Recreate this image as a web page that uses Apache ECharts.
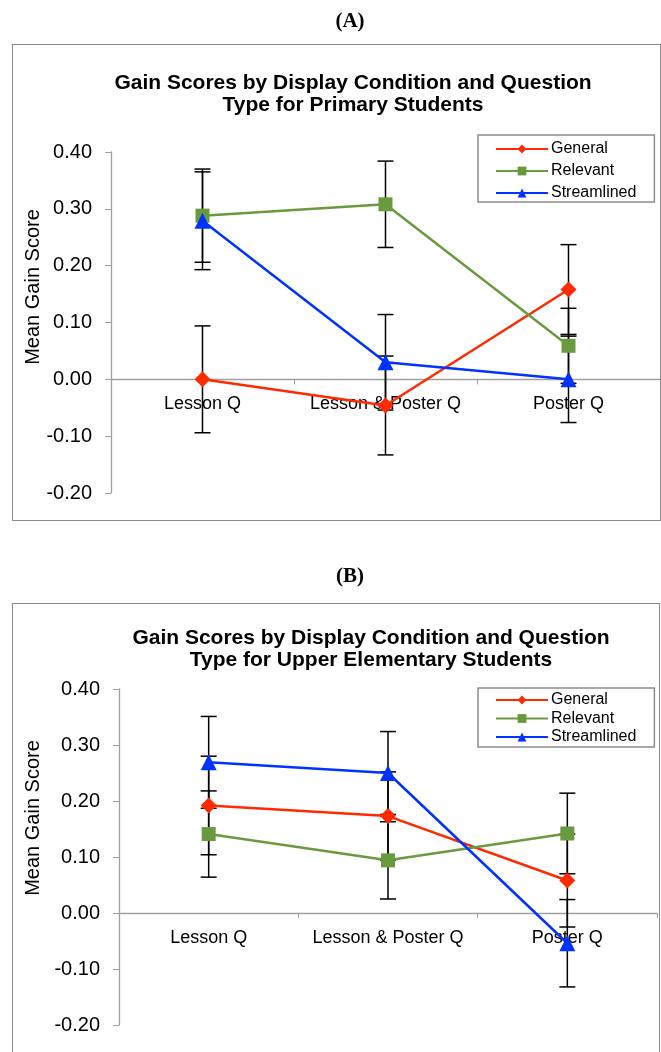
<!DOCTYPE html>
<html>
<head>
<meta charset="utf-8">
<script src="https://cdn.jsdelivr.net/npm/echarts@6/dist/echarts.min.js"></script>
<style>
  html, body { margin:0; padding:0; background:#fff; overflow:hidden; }
  #chart { position:absolute; left:0; top:0; width:661px; height:1052px; }
  .frame { position:absolute; box-sizing:border-box; border:1.5px solid #8c8c8c; pointer-events:none; }
</style>
</head>
<body>
<div id="chart"></div>
<div class="frame" style="left:12px; top:44px; width:649px; height:477px;"></div>
<div class="frame" style="left:12px; top:603px; width:648px; height:500px;"></div>
<script>
// ---- Data ----
var categories = ['Lesson Q', 'Lesson & Poster Q', 'Poster Q'];
var seriesNames = ['General', 'Relevant', 'Streamlined'];
var yTicks = [-0.20, -0.10, 0.00, 0.10, 0.20, 0.30, 0.40];

// Panel A: Primary Students
var primaryGeneral      = [0.000, -0.046, 0.158];
var primaryRelevant     = [0.288,  0.308, 0.059];
var primaryStreamlined  = [0.279,  0.030, 0.000];
var primaryGeneralErr     = [0.094, 0.087, 0.079];
var primaryRelevantErr    = [0.082, 0.076, 0.066];
var primaryStreamlinedErr = [0.086, 0.084, 0.076];

// Panel B: Upper Elementary Students
var upperGeneral      = [0.192, 0.173, 0.058];
var upperRelevant     = [0.141, 0.094, 0.142];
var upperStreamlined  = [0.269, 0.250, -0.054];
var upperGeneralErr     = [0.088, 0.079, 0.083];
var upperRelevantErr    = [0.077, 0.069, 0.072];
var upperStreamlinedErr = [0.082, 0.074, 0.078];

// ---- Styles ----
var colors = ['#ff2a00', '#6a9a3f', '#0033ff'];
var symbols = ['diamond', 'rect', 'triangle'];
var symbolSizes = [16, 14, 16];
var axisGray = '#a0a0a0';
var font = '"Liberation Sans", Arial, sans-serif';
var yMin = yTicks[0], yMax = yTicks[yTicks.length - 1];

var grids = [
  { left:111, top:152, width:549, height:341 },
  { left:119, top:689, width:538, height:336 }
];

var chart = echarts.init(document.getElementById('chart'), null, {renderer:'canvas'});

function errorRender(params, api) {
  var x = api.value(0), v = api.value(1), e = api.value(2);
  var top = api.coord([x, v + e]);
  var bot = api.coord([x, v - e]);
  var hw = 8;
  var st = { stroke:'#000', lineWidth:1.5 };
  return { type:'group', children:[
    { type:'line', shape:{ x1:top[0], y1:top[1], x2:bot[0], y2:bot[1] }, style:st },
    { type:'line', shape:{ x1:top[0]-hw, y1:top[1], x2:top[0]+hw, y2:top[1] }, style:st },
    { type:'line', shape:{ x1:bot[0]-hw, y1:bot[1], x2:bot[0]+hw, y2:bot[1] }, style:st }
  ]};
}

function errData(vals, errs) {
  return vals.map(function(v, i){ return [i, v, errs[i]]; });
}

function makeSeries(gridIdx, valsList, errList) {
  var out = [];
  for (var k = 0; k < 3; k++) {
    out.push({
      type:'custom', name: seriesNames[k] + ' err', xAxisIndex:gridIdx, yAxisIndex:gridIdx,
      renderItem: errorRender, data: errData(valsList[k], errList[k]), z:1, silent:true,
      encode:{ x:0, y:1 }
    });
  }
  for (var k2 = 0; k2 < 3; k2++) {
    out.push({
      type:'line', name: seriesNames[k2], xAxisIndex:gridIdx, yAxisIndex:gridIdx,
      data: valsList[k2], symbol: symbols[k2], symbolSize: symbolSizes[k2],
      lineStyle:{ color: colors[k2], width:2.5 }, itemStyle:{ color: colors[k2] },
      z:3, animation:false
    });
  }
  return out;
}

function xAxisDef(gridIdx) {
  // place the category axis (line, ticks, labels) on the zero line
  var zeroOffset = -(0 - yMin) / (yMax - yMin) * grids[gridIdx].height;
  return {
    type:'category', gridIndex:gridIdx, data:categories, boundaryGap:true,
    position:'bottom', offset: zeroOffset,
    axisLine:{ show:true, onZero:false, lineStyle:{ color:axisGray, width:1.3 } },
    axisTick:{ show:true, length:5, lineStyle:{ color:axisGray } },
    axisLabel:{ color:'#000', fontSize:18, fontFamily:font, margin:16, interval:0 },
    splitLine:{ show:false }
  };
}

function yAxisDef(gridIdx, nameGap, nameShift) {
  return {
    type:'value', gridIndex:gridIdx, min:yMin, max:yMax, interval:0.1,
    name:'Mean Gain Score', nameLocation:'middle', nameRotate:90, nameGap:nameGap,
    nameMoveOverlap:false,
    nameTextStyle:{ color:'#000', fontSize:20, fontFamily:font, padding:[0,0,0,nameShift] },
    axisLine:{ show:true, lineStyle:{ color:axisGray, width:1.3 } },
    axisTick:{ show:true, length:6, lineStyle:{ color:axisGray } },
    axisLabel:{ color:'#000', fontSize:20, fontFamily:font, margin:19,
      formatter:function(v){ return v.toFixed(2); } },
    splitLine:{ show:false }
  };
}

function legendDef(top, gap, padding) {
  return {
    data: seriesNames, orient:'vertical', left:478, top:top,
    itemWidth:52, itemHeight:11, itemGap:gap,
    textStyle:{ color:'#000', fontSize:16, fontFamily:font, padding:[0,0,0,-2] },
    borderColor:'#8c8c8c', borderWidth:1.5, padding:padding,
    selectedMode:false
  };
}

var option = {
  animation:false,
  title:[
    { text:'(A)', left:345, top:6, textAlign:'center',
      textStyle:{ fontFamily:'"Liberation Serif", "Times New Roman", serif', fontWeight:'bold', fontSize:21, color:'#000' } },
    { text:'Gain Scores by Display Condition and Question\nType for Primary Students',
      left:348, top:67, textAlign:'center',
      textStyle:{ fontFamily:font, fontWeight:'bold', fontSize:21, lineHeight:22, color:'#000' } },
    { text:'(B)', left:345, top:561, textAlign:'center',
      textStyle:{ fontFamily:'"Liberation Serif", "Times New Roman", serif', fontWeight:'bold', fontSize:21, color:'#000' } },
    { text:'Gain Scores by Display Condition and Question\nType for Upper Elementary Students',
      left:366, top:622, textAlign:'center',
      textStyle:{ fontFamily:font, fontWeight:'bold', fontSize:21, lineHeight:22, color:'#000' } }
  ],
  legend:[ legendDef(135, 6, [6,18,1,17]), legendDef(688, 2.5, [4,18,2,17]) ],
  grid: grids,
  xAxis:[ xAxisDef(0), xAxisDef(1) ],
  yAxis:[ yAxisDef(0, 68, 71), yAxisDef(1, 76, 78) ],
  series: [].concat(
    makeSeries(0, [primaryGeneral, primaryRelevant, primaryStreamlined],
                  [primaryGeneralErr, primaryRelevantErr, primaryStreamlinedErr]),
    makeSeries(1, [upperGeneral, upperRelevant, upperStreamlined],
                  [upperGeneralErr, upperRelevantErr, upperStreamlinedErr])
  )
};
chart.setOption(option);
</script>
</body>
</html>
